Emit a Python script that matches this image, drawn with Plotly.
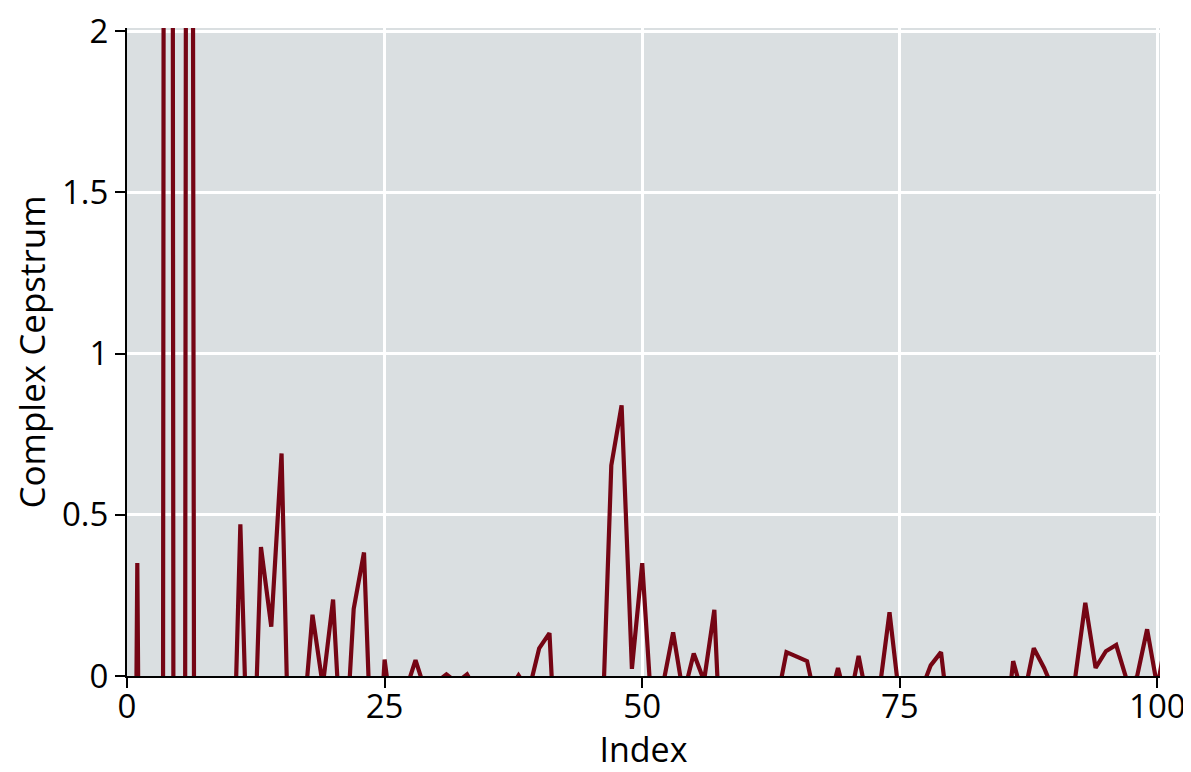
import plotly.graph_objects as go

index = list(range(0, 102))
cepstrum = [
    -4.0, 0.35, -4.0, -20.0, 20.0, -20.0, 11.0, -11.0, -3.0, -1.5,
    -0.7, 0.47, -0.6, 0.40, 0.153, 0.69, -0.69, -0.19, 0.19, -0.03,
    0.237, -0.35, 0.208, 0.383, -0.5, 0.051, -0.2, -0.05, 0.049, -0.05,
    -0.02, 0.005, -0.02, 0.005, -0.05, -0.1, -0.1, -0.05, 0.002, -0.046,
    0.086, 0.133, -0.5, -0.3, -0.2, -0.4, -0.28, 0.653, 0.839, 0.022,
    0.35, -0.15, -0.03, 0.135, -0.06, 0.07, -0.015, 0.205, -0.5, -0.3,
    -0.2, -0.3, -0.4, -0.09, 0.074, 0.06, 0.046, -0.1, -0.1, 0.025,
    -0.1, 0.062, -0.1, -0.05, 0.198, -0.08, -0.2, -0.05, 0.033, 0.074,
    -0.2, -0.3, -0.2, -0.3, -0.2, -0.25, 0.046, -0.07, 0.086, 0.025,
    -0.05, -0.1, -0.01, 0.227, 0.025, 0.077, 0.096, -0.01, -0.005, 0.145,
    -0.036, 0.15,
]

x_ticks = [0, 25, 50, 75, 100]
y_ticks = [0, 0.5, 1, 1.5, 2]
y_tick_labels = ["0", "0.5", "1", "1.5", "2"]

fig = go.Figure()
fig.add_trace(go.Scatter(
    x=index, y=cepstrum, mode="lines",
    line=dict(color="#750514", width=4.2),
    showlegend=False,
))

font_family = "Open Sans"
fig.update_layout(
    width=1183, height=764,
    margin=dict(l=119, r=31, t=20, b=96),
    plot_bgcolor="#dadfe1",
    paper_bgcolor="white",
    font=dict(family=font_family, color="black", size=33),
)
fig.update_xaxes(
    range=[0, 100.25], tickvals=x_ticks, ticktext=[str(v) for v in x_ticks],
    showgrid=True, gridcolor="white", gridwidth=3,
    showline=True, linecolor="black", linewidth=2,
    ticks="outside", ticklen=10, tickwidth=2, tickcolor="black",
    zeroline=False, automargin=False, ticklabeloverflow="allow",
    ticklabelstandoff=-10,
    tickfont=dict(size=33),
    title=dict(text="Index", font=dict(size=34), standoff=8),
)
fig.update_yaxes(
    range=[0, 2.0094], tickvals=y_ticks, ticktext=y_tick_labels,
    showgrid=True, gridcolor="white", gridwidth=3,
    showline=True, linecolor="black", linewidth=2,
    ticks="outside", ticklen=10, tickwidth=2, tickcolor="black",
    zeroline=False, automargin=False, ticklabeloverflow="allow",
    tickfont=dict(size=33),
    title=dict(text="Complex Cepstrum", font=dict(size=35), standoff=21),
)

fig.write_html("out.html")
